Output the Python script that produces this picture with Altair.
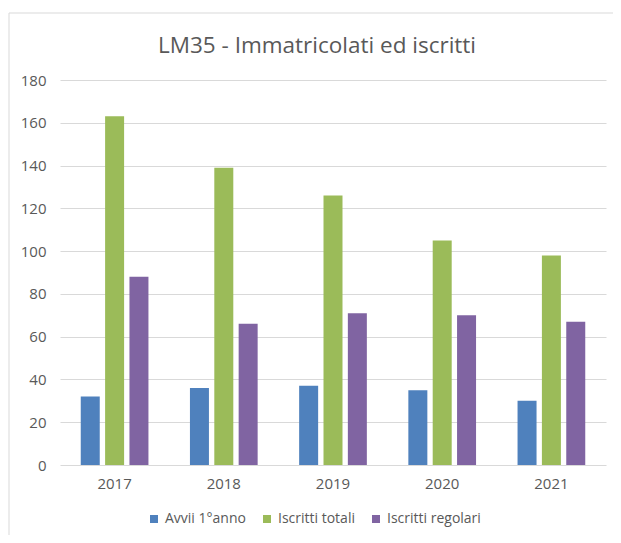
import altair as alt
import pandas as pd

years = ["2017", "2018", "2019", "2020", "2021"]
series = ["Avvii 1°anno", "Iscritti totali", "Iscritti regolari"]
avvii = [32, 36, 37, 35, 30]
totali = [163, 139, 126, 105, 98]
regolari = [88, 66, 71, 70, 67]
colors = ["#4F81BD", "#9BBB59", "#8064A2"]
y_ticks = [0, 20, 40, 60, 80, 100, 120, 140, 160, 180]

rows = []
for name, vals in zip(series, [avvii, totali, regolari]):
    for y, v in zip(years, vals):
        rows.append({"anno": y, "serie": name, "valore": v})
df = pd.DataFrame(rows)

FONT = "Open Sans"
GRAY = "#595959"

bars = alt.Chart(df).mark_bar().encode(
    x=alt.X("anno:N", sort=years,
            scale=alt.Scale(paddingInner=0.38, paddingOuter=0.19),
            axis=alt.Axis(title=None, labelAngle=0, domain=False, ticks=False,
                          labelPadding=11, labelFontSize=15, labelColor=GRAY,
                          labelFont=FONT)),
    xOffset=alt.XOffset("serie:N", sort=series,
                        scale=alt.Scale(paddingInner=0.22, paddingOuter=0)),
    y=alt.Y("valore:Q", scale=alt.Scale(domain=[0, 180], nice=False),
            axis=alt.Axis(title=None, values=y_ticks, domain=False, ticks=False,
                          labelPadding=14, labelFontSize=15, labelColor=GRAY,
                          labelFont=FONT, gridColor="#D9D9D9", gridWidth=1)),
    color=alt.Color("serie:N", sort=series,
                    scale=alt.Scale(domain=series, range=colors),
                    legend=alt.Legend(title=None, orient="none", direction="horizontal",
                                      legendX=87, legendY=432, symbolType="square",
                                      symbolSize=64, symbolStrokeWidth=0,
                                      labelFontSize=14, labelColor=GRAY, labelFont=FONT,
                                      columnPadding=14, labelOffset=4)),
)

frame = alt.Chart(pd.DataFrame({"k": [0]})).mark_rect(
    fill=None, stroke="#D9D9D9", strokeWidth=1
).encode(x=alt.value(-51), x2=alt.value(620), y=alt.value(-67), y2=alt.value(600))

edge = alt.Chart(pd.DataFrame({"k": [0]})).mark_rule(
    color="#555555", strokeWidth=2
).encode(x=alt.value(-58), y=alt.value(-80), y2=alt.value(600))

chart = alt.layer(frame, edge, bars).properties(
    width=546, height=385,
    padding={"left": 52, "top": 72, "right": 7, "bottom": 70},
    autosize=alt.AutoSizeParams(type="none"),
    title=alt.TitleParams("LM35 - Immatricolati ed iscritti", anchor="middle",
                          dx=-16, dy=80, offset=22, fontSize=22.5, font=FONT,
                          fontWeight="normal", color=GRAY),
).configure_view(stroke=None)

chart.save("out.html", embed_options={"renderer": "svg", "actions": False})
